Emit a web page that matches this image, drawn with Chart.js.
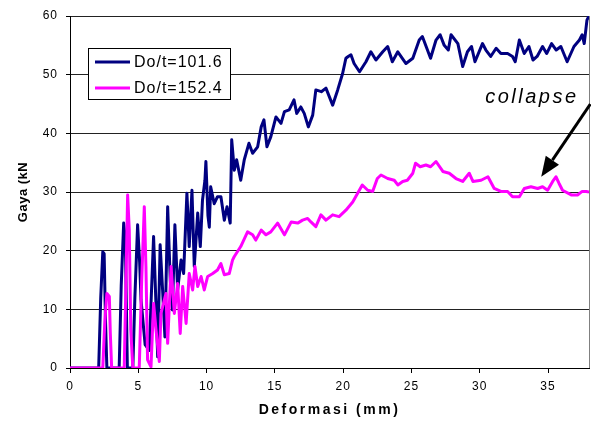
<!DOCTYPE html>
<html>
<head>
<meta charset="utf-8">
<script src="https://cdn.jsdelivr.net/npm/chart.js@4/dist/chart.umd.min.js"></script>
<style>
  html, body { margin: 0; padding: 0; background: #fff; }
  #wrap { width: 591px; height: 423px; }
</style>
</head>
<body>
<div id="wrap"><canvas id="chart" width="591" height="423"></canvas></div>
<script>
// Series labels
const seriesNames = ['Do/t=101.6', 'Do/t=152.4'];

// Do/t=101.6 (navy)
const deformasiA = [0, 2.1, 2.25, 2.4, 2.5, 2.6, 2.7, 3.6, 3.75, 3.93, 4.05, 4.2, 4.6, 4.75, 4.95, 5.1, 5.2, 5.5, 5.8,
  6.12, 6.3, 6.42, 6.6, 6.78, 6.95, 7.15, 7.34, 7.5, 7.68, 7.88, 8.13, 8.32, 8.56, 8.73, 8.93, 9.1, 9.35, 9.54, 9.7,
  9.88, 9.95, 10.1, 10.2, 10.3, 10.56, 10.8, 11.05, 11.3, 11.5, 11.73, 11.84, 12.03, 12.2, 12.5, 12.76, 13.1, 13.37,
  13.74, 14.0, 14.2, 14.42, 14.7, 15.08, 15.45, 15.7, 16.05, 16.4, 16.6, 16.9, 17.15, 17.45, 17.77, 18.0, 18.4, 18.74,
  19.23, 19.6, 19.96, 20.2, 20.37, 20.57, 20.8, 21.2, 21.67, 22.03, 22.4, 22.9, 23.26, 23.6, 24.0, 24.6, 25.1, 25.57,
  25.8, 26.4, 26.8, 27.1, 27.4, 27.7, 27.9, 28.4, 28.75, 29.1, 29.4, 29.65, 30.2, 30.45, 30.8, 31.2, 31.55, 32.04,
  32.4, 32.6, 32.9, 33.26, 33.6, 33.9, 34.2, 34.6, 34.9, 35.26, 35.6, 35.94, 36.4, 36.9, 37.3, 37.5, 37.65, 37.85, 38];
const gayaA = [0, 0, 12, 19.8, 19.5, 8, 0, 0, 14, 24.7, 22, 0, 0, 12, 24.4, 18, 11.6, 4, 3,
  22.4, 10.5, 1.9, 21, 13.3, 5.3, 27.5, 15, 9.9, 24.4, 13.3, 18.4, 16.1, 29.8, 20.7, 30.3, 17.3, 26.4, 20.7, 28.6,
  32, 35.2, 26, 24, 30.9, 28, 29.2, 29.2, 25.2, 27.5, 24.7, 38.9, 33.7, 35.5, 32, 35.5, 38.3, 36.6,
  37.7, 41.1, 42.3, 37.7, 39.4, 42.8, 41.7, 43.7, 44, 45.7, 43.4, 44.5, 43.4, 41.1, 43.1, 47.4, 47.1, 47.7,
  44.8, 47.4, 50.2, 52.8, 53.1, 53.4, 51.9, 50.5, 52.2, 53.9, 52.5, 53.9, 54.8, 52.2, 53.9, 51.9, 52.8, 55.9,
  56.5, 52.8, 55.9, 56.8, 55, 54.2, 56.8, 55.3, 51.4, 53.9, 54.8, 52.2, 55.3, 54.2, 53.1, 54.5, 53.6, 53.6,
  53.1, 52.2, 55.9, 53.6, 54.8, 52.5, 53.1, 54.8, 53.6, 55.3, 54.2, 54.8, 52.2, 54.8, 55.9, 56.8, 55.3, 59.3, 60];

// Do/t=152.4 (magenta)
const deformasiB = [0, 2.4, 2.55, 2.7, 2.88, 2.95, 3.05, 3.97, 4.1, 4.22, 4.34, 4.45, 4.6, 5.07, 5.25, 5.44, 5.56,
  5.68, 5.93, 6.12, 6.3, 6.54, 6.66, 7.03, 7.15, 7.4, 7.64, 7.88, 8.07, 8.25, 8.5, 8.73, 8.98, 9.15, 9.35, 9.6, 9.83,
  10.08, 10.45, 10.8, 11.05, 11.3, 11.66, 11.9, 12.03, 12.5, 13.0, 13.37, 13.6, 14.0, 14.35, 14.7, 15.2, 15.7, 16.2,
  16.67, 17.03, 17.4, 17.64, 18.0, 18.37, 18.74, 19.23, 19.7, 20.2, 20.7, 21.06, 21.4, 21.8, 22.16, 22.5, 22.77,
  23.26, 23.74, 24.0, 24.36, 24.7, 25.1, 25.3, 25.64, 26.06, 26.4, 26.8, 27.3, 27.77, 28.26, 28.75, 29.23, 29.5,
  30.1, 30.6, 31.06, 31.55, 32.04, 32.4, 32.9, 33.26, 33.75, 34.24, 34.6, 34.97, 35.34, 35.58, 35.8, 36.06, 36.7,
  37.16, 37.5, 37.8, 38];
const gayaB = [0, 0, 8, 12.7, 12.2, 6, 0, 0, 15, 29.5, 23.5, 6.5, 0, 0, 15, 27.5, 17.3,
  1.4, 0.2, 11, 6.5, 1.1, 9.3, 12.7, 4.2, 17.3, 9.3, 14.4, 5.9, 13.9, 7.6, 16.1, 13.3, 17.3, 13.9, 15.6, 13.3,
  15.6, 16.1, 16.7, 17.8, 15.9, 16.1, 18.4, 19, 20.7, 23.2, 22.7, 21.8, 23.5, 22.7, 23.2, 24.7, 22.7, 24.9,
  24.7, 25.2, 25.5, 24.9, 24.1, 26.1, 25.2, 26.1, 25.8, 26.9, 28.3, 29.8, 31.2, 30.3, 30.1, 32.3, 32.9,
  32.3, 32, 31.2, 31.8, 32, 33.2, 34.9, 34.3, 34.6, 34.3, 35.2, 33.5, 33.2, 32.3, 31.8, 33.2, 31.8,
  32, 32.6, 30.6, 30.1, 30.1, 29.2, 29.2, 30.6, 30.9, 30.6, 30.9, 30.3, 31.8, 32.6, 31.5, 30.3, 29.5,
  29.5, 30.1, 30.1, 30];

// Axis ranges
const xRange = [0, 38];
const yRange = [0, 60];
const xStep = 5;
const yStep = 10;

// "collapse" note: text anchor and arrow tail/tip in data units
const noteText = 'collapse';
const noteAt = [30.4, 45.2];
const arrowFrom = [38.1, 45.0];
const arrowTo = [34.5, 32.6];

const toPoints = (xs, ys) => xs.map((x, i) => ({ x: x, y: ys[i] }));

const FONT = '"Liberation Sans", Arial, sans-serif';

const spacingPlugin = {
  id: 'spacing',
  beforeDraw(chart) {
    chart.ctx.letterSpacing = '1px';
  }
};

const framePlugin = {
  id: 'frame',
  afterDatasetsDraw(chart) {
    const { ctx, chartArea } = chart;
    ctx.save();
    ctx.strokeStyle = '#808080';
    ctx.lineWidth = 1;
    ctx.beginPath();
    ctx.moveTo(Math.round(chartArea.right) + 0.5, chartArea.top);
    ctx.lineTo(Math.round(chartArea.right) + 0.5, chartArea.bottom);
    ctx.stroke();
    ctx.restore();
  }
};

const decorPlugin = {
  id: 'decor',
  afterDraw(chart) {
    const ctx = chart.ctx;
    const xs = chart.scales.x;
    const ys = chart.scales.y;
    const area = chart.chartArea;

    ctx.save();
    ctx.fillStyle = '#000';

    // axis titles
    ctx.font = 'bold 14px ' + FONT;
    ctx.letterSpacing = '2.5px';
    ctx.textAlign = 'center';
    ctx.textBaseline = 'middle';
    ctx.fillText('Deformasi (mm)', (area.left + area.right) / 2, 410);

    ctx.save();
    ctx.translate(23, 192);
    ctx.rotate(-Math.PI / 2);
    ctx.font = 'bold 13px ' + FONT;
    ctx.letterSpacing = '0.5px';
    ctx.fillText('Gaya (kN', 0, 0);
    ctx.restore();

    // legend box
    const colors = chart.data.datasets.map(d => d.borderColor);
    ctx.fillStyle = '#fff';
    ctx.fillRect(88.5, 48.5, 142, 51);
    ctx.strokeStyle = '#000';
    ctx.lineWidth = 1;
    ctx.strokeRect(88.5, 48.5, 142, 51);
    ctx.font = '16px ' + FONT;
    ctx.letterSpacing = '1px';
    ctx.textAlign = 'left';
    ctx.textBaseline = 'middle';
    seriesNames.forEach((name, i) => {
      const y = 62 + i * 26;
      ctx.strokeStyle = colors[i];
      ctx.lineWidth = 3;
      ctx.beginPath();
      ctx.moveTo(95, y);
      ctx.lineTo(130, y);
      ctx.stroke();
      ctx.fillStyle = '#000';
      ctx.fillText(name, 134, y + 0.5);
    });

    // collapse note with arrow
    ctx.font = 'italic 20px ' + FONT;
    ctx.letterSpacing = '2.5px';
    ctx.textBaseline = 'alphabetic';
    ctx.fillText(noteText, xs.getPixelForValue(noteAt[0]), ys.getPixelForValue(noteAt[1]));

    const x1 = xs.getPixelForValue(arrowFrom[0]), y1 = ys.getPixelForValue(arrowFrom[1]);
    const x2 = xs.getPixelForValue(arrowTo[0]), y2 = ys.getPixelForValue(arrowTo[1]);
    const ang = Math.atan2(y2 - y1, x2 - x1);
    const headLen = 20, headHalf = 8;
    const bx = x2 - headLen * Math.cos(ang), by = y2 - headLen * Math.sin(ang);
    ctx.strokeStyle = '#000';
    ctx.lineWidth = 3;
    ctx.beginPath();
    ctx.moveTo(x1, y1);
    ctx.lineTo(bx, by);
    ctx.stroke();
    ctx.beginPath();
    ctx.moveTo(x2, y2);
    ctx.lineTo(bx + headHalf * Math.sin(ang), by - headHalf * Math.cos(ang));
    ctx.lineTo(bx - headHalf * Math.sin(ang), by + headHalf * Math.cos(ang));
    ctx.closePath();
    ctx.fill();

    ctx.restore();
  }
};

new Chart(document.getElementById('chart'), {
  type: 'line',
  data: {
    datasets: [
      {
        label: seriesNames[0],
        data: toPoints(deformasiA, gayaA),
        borderColor: '#000080',
        borderWidth: 3,
        borderJoinStyle: 'round',
        pointRadius: 0,
        tension: 0,
        order: 1
      },
      {
        label: seriesNames[1],
        data: toPoints(deformasiB, gayaB),
        borderColor: '#FF00FF',
        borderWidth: 3,
        borderJoinStyle: 'round',
        pointRadius: 0,
        tension: 0,
        order: 0
      }
    ]
  },
  options: {
    responsive: false,
    animation: false,
    layout: { padding: { top: 16, right: 2, left: 0, bottom: 0 } },
    plugins: {
      legend: { display: false },
      tooltip: { enabled: false }
    },
    scales: {
      x: {
        type: 'linear',
        min: xRange[0],
        max: xRange[1],
        afterFit(scale) { scale.height = 55; },
        ticks: {
          stepSize: xStep,
          includeBounds: false,
          maxRotation: 0,
          padding: 6,
          color: '#000',
          font: { family: FONT, size: 12 }
        },
        grid: { drawOnChartArea: false, drawTicks: true, tickLength: 5, tickColor: '#000' },
        border: { color: '#000', width: 1 }
      },
      y: {
        min: yRange[0],
        max: yRange[1],
        afterFit(scale) { scale.width = 70; },
        ticks: {
          stepSize: yStep,
          padding: 8,
          color: '#000',
          font: { family: FONT, size: 12 }
        },
        grid: { color: '#222', lineWidth: 1, drawTicks: true, tickLength: 4, tickColor: '#000' },
        border: { color: '#000', width: 1 }
      }
    }
  },
  plugins: [spacingPlugin, framePlugin, decorPlugin]
});
</script>
</body>
</html>
